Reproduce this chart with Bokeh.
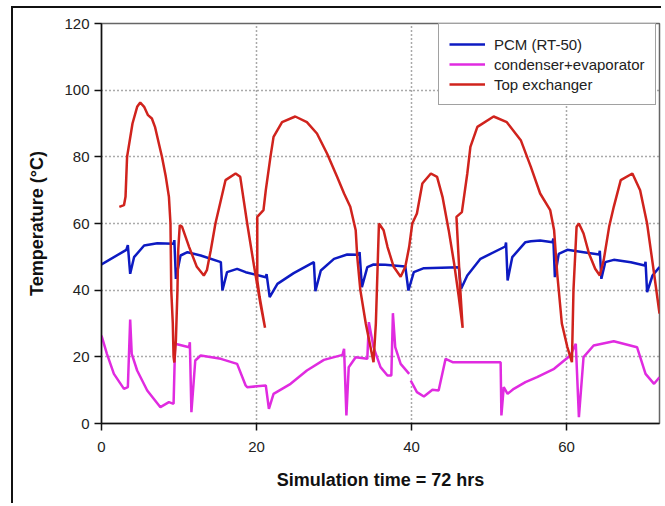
import numpy as np
from bokeh.plotting import figure
from bokeh.models import Legend, LegendItem, FixedTicker, Range1d
from bokeh.embed import file_html
from bokeh.resources import INLINE

nan = float("nan")

# Top exchanger (red)
red_t = [2.3, 2.9, 3.1, 3.3, 4.0, 4.6, 5.0, 5.5, 6.0, 6.5, 6.9, 7.4, 7.8, 8.3, 8.7, 8.9, 9.0, 9.2, 9.3, 9.4,
         9.6, 9.8, 9.9, 10.1, 10.4, 11.3, 12.3, 13.2, 13.6, 14.1, 14.7, 15.4, 16.0, 17.3, 17.9, 18.8, 19.7,
         20.5, 21.1, 20.4, 20.1, 20.1, 20.9, 21.2, 21.8, 22.2, 23.3, 25.0, 26.5, 27.8, 29.1, 30.4, 31.3,
         32.1, 32.8, 33.0, 33.4, 34.1, 34.7, 35.1, 35.4, 35.8, 36.4, 36.9, 37.7, 38.6, 39.2, 39.7, 40.1,
         40.7, 41.4, 42.5, 43.3, 44.0, 44.8, 45.5, 46.1, 46.6, 46.3, 45.8, 46.5, 47.2, 47.6, 48.5, 50.6,
         52.3, 54.1, 55.4, 56.6, 57.9, 58.4, 58.8, 59.4, 60.1, 60.7, 60.9, 61.3, 61.6, 62.2, 62.9, 63.7,
         64.3, 64.8, 65.5, 66.1, 67.0, 68.5, 69.5, 70.4, 71.3, 72.0]
red_T = [65, 65.5, 68, 80, 90, 95, 96.3, 95, 92.5, 91.5, 89, 84, 80, 74, 68, 60, 40, 30, 20, 18.3,
         25, 40, 52, 59.5, 59, 53, 47, 44.4, 46, 52, 60, 67, 73, 75, 74, 60, 47,
         36, 28.7, 38, 43, 62, 64, 70, 80, 86, 90.4, 92.1, 90.4, 87, 81, 74, 69,
         65, 58, 50, 40, 30, 23, 18.4, 30, 60, 58, 53, 47, 44, 47, 53, 60,
         63, 72, 75, 74, 68, 58, 48, 38, 28.7, 40, 62, 63.4, 75, 83, 89, 92.1,
         90.4, 85, 77, 69, 64, 58, 45, 30, 23, 18.4, 40, 59, 60, 57, 51, 46.4,
         44.4, 49, 59, 65, 73, 75, 70, 60, 45, 33]

# PCM (RT-50) (blue)
pcm_t = [0.0, 3.2, 3.4, 3.7, 4.2, 5.5, 7.2, 9.3, 9.4, 9.6, 10.2, 11.1, 12.8, 15.4, 15.6, 16.2, 17.5,
         18.6, 21.2, 21.3, 21.7, 22.7, 24.8, 27.4, 27.6, 28.3, 30.0, 31.7, 33.2, 33.3, 33.6, 34.3, 35.1,
         36.6, 39.2, 39.6, 40.3, 41.6, 46.1, 46.4, 47.2, 48.9, 52.1, 52.2, 52.4, 53.0, 54.7, 55.4, 56.6,
         58.2, 58.3, 58.5, 59.0, 60.1, 62.2, 64.2, 64.3, 64.5, 65.0, 66.1, 68.3, 70.1, 70.2, 70.4, 71.1, 72.0]
pcm_T = [47.7, 52.1, 53.5, 44.9, 49.9, 53.4, 54.1, 53.9, 55.0, 43.4, 50.4, 51.4, 50.4, 48.4, 39.9, 45.4, 46.4,
         45.4, 43.9, 44.8, 37.9, 41.9, 45.1, 48.4, 39.7, 45.9, 49.4, 50.7, 50.6, 51.4, 40.9, 46.9, 47.7,
         47.6, 47.1, 39.9, 45.4, 46.6, 46.9, 40.4, 44.4, 49.4, 53.1, 54.3, 42.9, 49.9, 54.4, 54.7, 54.9,
         54.4, 55.5, 43.9, 50.9, 52.1, 51.4, 50.7, 51.8, 43.4, 48.4, 49.1, 48.4, 47.4, 48.5, 39.4, 44.4, 46.9]

# condenser+evaporator (magenta)
ce_t = [0.0, 0.7, 1.6, 2.9, 3.4, 3.7, 3.9, 4.6, 5.9, 7.6, 8.7, 9.3, 9.5, 11.3, 11.4, 11.6, 12.1, 12.8,
        15.4, 17.5, 18.6, 18.8, 21.2, 21.6, 22.2, 24.4, 26.5, 28.7, 31.1, 31.3, 31.6, 31.9, 32.8, 34.3,
        34.5, 35.1, 36.0, 36.9, 37.4, 37.6, 37.9, 38.6, 39.7, nan, 39.9, 40.7, 41.6, 42.7, 43.5, 44.4,
        45.3, 51.5, 51.6, 51.9, 52.4, 53.2, 54.7, 56.2, 58.4, 59.7, 60.5, 61.2, 61.6, 62.2, 63.5, 66.1,
        69.1, 70.2, 71.3, 72.0]
ce_T = [26.4, 20.9, 14.9, 10.4, 10.9, 31.2, 20.9, 15.9, 9.9, 4.9, 6.4, 5.9, 23.9, 22.9, 24.4, 3.4, 18.9, 20.4,
        19.4, 17.9, 11.4, 10.9, 11.4, 4.4, 8.9, 11.9, 15.9, 19.1, 20.6, 22.4, 2.4, 16.9, 19.9, 19.4,
        30.4, 22.9, 16.9, 14.4, 14.4, 33.1, 22.9, 17.9, 14.9, nan, 12.9, 9.4, 8.1, 10.1, 9.9, 19.4,
        18.4, 18.4, 2.4, 10.9, 8.9, 10.4, 12.4, 13.9, 16.4, 18.9, 20.4, 23.9, 1.9, 19.9, 23.4, 24.7,
        22.9, 14.9, 11.9, 13.9]

series_names = ["PCM (RT-50)", "condenser+evaporator", "Top exchanger"]
x_ticks = [0, 20, 40, 60]
y_ticks = [0, 20, 40, 60, 80, 100, 120]

FONT = "Liberation Sans"

p = figure(width=650, height=497, output_backend="svg", toolbar_location=None,
           x_range=Range1d(0, 72), y_range=Range1d(0, 120),
           min_border_left=88, min_border_right=4, min_border_top=15, min_border_bottom=82)
p.styles = {"margin-left": "11px", "margin-top": "6px",
            "border-left": "2px solid #111", "border-top": "2px solid #111"}

p.outline_line_color = "#666666"
p.outline_line_width = 1.5

for ax in (p.xaxis[0], p.yaxis[0]):
    ax.axis_line_color = "#111111"
    ax.axis_line_width = 1.5
    ax.major_tick_line_color = "#111111"
    ax.major_tick_line_width = 1.5
    ax.major_tick_in = 0
    ax.major_tick_out = 7
    ax.minor_tick_line_color = None
    ax.major_label_text_font = FONT
    ax.major_label_text_font_size = "15px"
    ax.major_label_text_color = "#222222"
    ax.axis_label_text_font = FONT
    ax.axis_label_text_font_style = "bold"
    ax.axis_label_text_font_size = "18px"
    ax.axis_label_text_color = "#111111"

p.xaxis.ticker = FixedTicker(ticks=x_ticks)
p.yaxis.ticker = FixedTicker(ticks=y_ticks)
p.xaxis.axis_label = "Simulation time = 72 hrs"
p.yaxis.axis_label = "Temperature (°C)"
p.xaxis.major_label_standoff = 11
p.yaxis.major_label_standoff = 5
p.xaxis.axis_label_standoff = 15
p.yaxis.axis_label_standoff = 14

for g in (p.xgrid[0], p.ygrid[0]):
    g.grid_line_color = "#555555"
    g.grid_line_dash = "1 3"
    g.grid_line_width = 1.5
p.xgrid.ticker = FixedTicker(ticks=[20, 40, 60])
p.ygrid.ticker = FixedTicker(ticks=[20, 40, 60, 80, 100])

r_pcm = p.line(pcm_t, pcm_T, line_color="#0d1ac2", line_width=2.5)
r_ce = p.line(ce_t, ce_T, line_color="#e02be0", line_width=2.5)
r_red = p.line(red_t, red_T, line_color="#d0231d", line_width=2.5)

legend = Legend(items=[LegendItem(label=series_names[0], renderers=[r_pcm]),
                       LegendItem(label=series_names[1], renderers=[r_ce]),
                       LegendItem(label=series_names[2], renderers=[r_red])],
                location=(337, 318), padding=10, spacing=0, margin=0,
                glyph_width=36, glyph_height=20, label_height=20, label_standoff=9,
                label_text_font=FONT, label_text_font_size="15px", label_text_color="#222222",
                border_line_color="#444444", border_line_width=1.5,
                background_fill_color="white", background_fill_alpha=1.0)
p.add_layout(legend, "center")

open("out.html", "w").write(file_html(p, INLINE))
